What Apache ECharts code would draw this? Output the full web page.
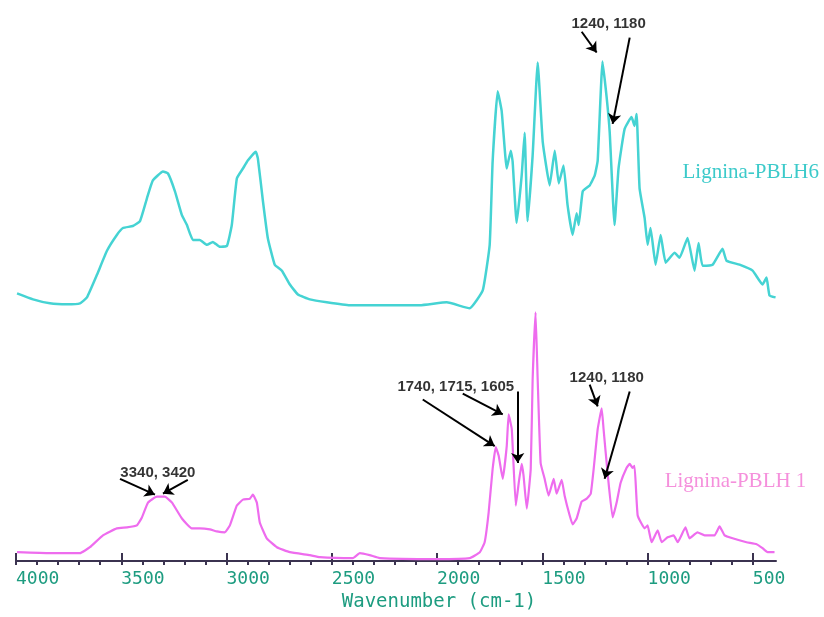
<!DOCTYPE html>
<html>
<head>
<meta charset="utf-8">
<title>FTIR Lignina-PBLH</title>
<script src="https://cdn.jsdelivr.net/npm/echarts@6/dist/echarts.min.js"></script>
<style>
  html, body { margin: 0; padding: 0; background: #fff; }
  #chart { width: 824px; height: 617px; }
</style>
</head>
<body>
<div id="chart"></div>
<script>
// wavenumber (cm-1) and relative absorbance (arbitrary units, offset spectra)
const pblh6Wn = [3995, 3919, 3839, 3758, 3696, 3663, 3615, 3568, 3521, 3492, 3445, 3411, 3378, 3350, 3302, 3278,
  3245, 3212, 3188, 3160, 3127, 3093, 3065, 3032, 2998, 2975, 2951, 2922, 2899, 2861, 2851, 2827, 2804, 2771,
  2737, 2699, 2661, 2604, 2524, 2415, 2258, 2082, 1954, 1845, 1783, 1750, 1736, 1712, 1693, 1669, 1650, 1641,
  1622, 1598, 1584, 1570, 1546, 1522, 1498, 1465, 1441, 1422, 1399, 1380, 1356, 1337, 1327, 1308, 1275, 1251,
  1237, 1214, 1195, 1180, 1157, 1138, 1109, 1076, 1062, 1052, 1038, 1014, 1000, 986, 962, 938, 914, 872, 848,
  810, 777, 758, 739, 691, 644, 625, 563, 501, 454, 435, 421, 392];
const pblh6Abs = [270, 264, 260, 259, 260, 266, 289, 313, 329, 336, 338, 343, 366, 384, 393, 391,
  373, 349, 339, 324, 324, 319, 322, 317, 318, 339, 386, 396, 404, 413, 406, 363, 326, 299,
  293, 279, 269, 264, 261, 258, 258, 258, 261, 255, 273, 319, 403, 474, 454, 396, 414, 403,
  341, 389, 432, 343, 409, 503, 423, 379, 414, 381, 399, 359, 329, 351, 339, 373, 379, 389,
  404, 504, 469, 433, 339, 396, 436, 448, 439, 451, 376, 346, 319, 336, 299, 329, 301, 311, 306,
  326, 293, 321, 298, 299, 315, 303, 299, 293, 279, 286, 268, 266];

const pblh1Wn = [3995, 3839, 3696, 3649, 3587, 3521, 3473, 3426, 3402, 3373, 3331, 3293, 3259, 3212, 3165, 3127,
  3079, 3046, 3008, 2984, 2951, 2922, 2889, 2875, 2856, 2842, 2809, 2761, 2699, 2604, 2557, 2400, 2367, 2320,
  2272, 2001, 1845, 1797, 1774, 1755, 1736, 1721, 1707, 1688, 1669, 1660, 1645, 1626, 1612, 1598, 1589, 1574,
  1555, 1546, 1532, 1522, 1508, 1489, 1470, 1446, 1432, 1408, 1394, 1370, 1356, 1337, 1313, 1289, 1270, 1256,
  1237, 1218, 1209, 1190, 1166, 1147, 1128, 1100, 1085, 1071, 1062, 1047, 1014, 1000, 981, 952, 933, 905, 876,
  857, 820, 801, 763, 729, 682, 658, 634, 596, 530, 482, 454, 430, 397];
const pblh1Abs = [9, 8, 8, 14, 26, 33, 34, 36, 44, 59, 65, 65, 59, 43, 33, 33,
  32, 30, 29, 36, 56, 62, 63, 67, 59, 39, 23, 14, 9, 6, 4, 3, 8, 6,
  3, 2, 3, 9, 19, 49, 93, 115, 106, 83, 116, 148, 133, 56, 79, 98, 86, 53,
  93, 183, 251, 183, 99, 83, 66, 83, 68, 82, 66, 46, 37, 43, 60, 63, 68, 93,
  133, 154, 133, 89, 44, 59, 79, 94, 98, 94, 96, 46, 33, 36, 19, 31, 19, 24, 26,
  19, 34, 23, 29, 26, 26, 35, 26, 23, 19, 17, 13, 9, 9];

const majorTicks = [4000, 3500, 3000, 2500, 2000, 1500, 1000, 500];
const minorTicks = [3900, 3800, 3700, 3600, 3400, 3300, 3200, 3100, 2900, 2800, 2700, 2600,
  2400, 2300, 2200, 2100, 1900, 1800, 1700, 1600, 1400, 1300, 1200, 1100, 900, 800, 700, 600];

// annotation texts [wavenumber, absorbance, text]
const pblh6Notes = [[1185, 542, '1240, 1180']];
const pblh1Notes = [[1911, 176, '1740, 1715, 1605'], [1194, 185, '1240, 1180'], [3326, 89, '3340, 3420']];
// arrows [fromWn, fromAbs, toWn, toAbs]
const pblh6Arrows = [[1313, 534, 1242, 513], [1085, 528, 1166, 441]];
const pblh1Arrows = [[2068, 163, 1726, 116], [1878, 169, 1688, 148], [1617, 171, 1617, 99],
  [1275, 178, 1237, 156], [1085, 171, 1204, 83], [3506, 83, 3340, 67], [3184, 82, 3302, 68]];
// series name tags [wavenumber, absorbance]
const pblh6Tag = [834, 392];
const pblh1Tag = [919, 80];

const zip = (xs, ys) => xs.map((x, i) => [x, ys[i]]);
const arrowLines = list => list.map(a => [{ coord: [a[0], a[1]] }, { coord: [a[2], a[3]] }]);

const chart = echarts.init(document.getElementById('chart'));

const axisColor = '#3b3350';
const labelColor = '#1d9c80';
const baseX = { type: 'value', min: 390, max: 4000, inverse: true, position: 'bottom', gridIndex: 0, splitLine: { show: false } };

const noteStyle = {
  show: true, position: 'inside', color: '#000', fontFamily: 'Liberation Sans, Arial, sans-serif',
  fontWeight: 'bold', fontSize: 15
};

function markLineFor(arrows) {
  return {
    silent: true,
    symbol: ['none', 'arrow'],
    symbolSize: 10,
    label: { show: false },
    lineStyle: { color: '#000', width: 2, type: 'solid' },
    emphasis: { disabled: true },
    data: arrowLines(arrows)
  };
}

function tagPoint(pos, text, color) {
  return {
    silent: true,
    symbol: 'circle',
    symbolSize: 0,
    data: [{ coord: pos, value: text }],
    label: {
      show: true, position: 'inside', align: 'left', formatter: text,
      color: color, fontFamily: 'Liberation Serif, Times New Roman, serif', fontSize: 21
    }
  };
}

const option = {
  animation: false,
  backgroundColor: '#ffffff',
  grid: { left: 16, right: 48, top: 0, bottom: 51, containLabel: false },
  xAxis: [
    Object.assign({}, baseX, {
      axisLine: { show: true, lineStyle: { color: axisColor, width: 2 } },
      axisTick: { show: true, customValues: majorTicks, length: 4, lineStyle: { color: axisColor, width: 2 } },
      axisLabel: {
        show: true, customValues: majorTicks, align: 'left', margin: 9,
        formatter: v => String(v),
        color: labelColor, fontFamily: 'DejaVu Sans Mono, monospace', fontSize: 18
      },
      name: 'Wavenumber (cm-1)',
      nameLocation: 'middle',
      nameGap: 31,
      nameTextStyle: {
        color: labelColor, fontFamily: 'DejaVu Sans Mono, monospace', fontSize: 19,
        padding: [0, 0, 0, 86]
      }
    }),
    Object.assign({}, baseX, {
      axisLine: { show: false },
      axisTick: { show: true, inside: true, customValues: majorTicks, length: 8, lineStyle: { color: axisColor, width: 2 } },
      axisLabel: { show: false }
    }),
    Object.assign({}, baseX, {
      axisLine: { show: false },
      axisTick: { show: true, customValues: minorTicks, length: 4, lineStyle: { color: axisColor, width: 2 } },
      axisLabel: { show: false }
    })
  ],
  yAxis: { type: 'value', min: 0, max: 566, show: false, splitLine: { show: false } },
  series: [
    {
      name: 'Lignina-PBLH6',
      type: 'line',
      symbol: 'none',
      smooth: 0.12,
      data: zip(pblh6Wn, pblh6Abs),
      lineStyle: { color: '#45d3d3', width: 2.5 },
      markLine: markLineFor(pblh6Arrows),
      markPoint: tagPoint(pblh6Tag, 'Lignina-PBLH6', '#3ccaca')
    },
    {
      name: 'Lignina-PBLH 1',
      type: 'line',
      symbol: 'none',
      smooth: 0.12,
      data: zip(pblh1Wn, pblh1Abs),
      lineStyle: { color: '#ee6cee', width: 2.2 },
      markLine: markLineFor(pblh1Arrows),
      markPoint: tagPoint(pblh1Tag, 'Lignina-PBLH 1', '#f590dc')
    },
    {
      name: 'notes',
      type: 'scatter',
      symbolSize: 0,
      silent: true,
      data: pblh6Notes.concat(pblh1Notes),
      label: Object.assign({}, noteStyle, { formatter: p => p.data[2] })
    }
  ]
};

chart.setOption(option);
</script>
</body>
</html>
